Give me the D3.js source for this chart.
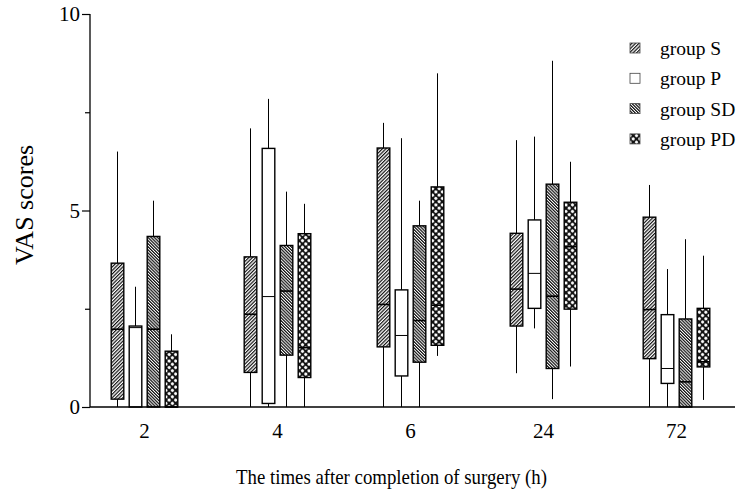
<!DOCTYPE html>
<html>
<head>
<meta charset="utf-8">
<script src="https://cdn.jsdelivr.net/npm/d3@7/dist/d3.min.js"></script>
<style>
    body { margin: 0; background: #fff; }
    svg { display: block; }
</style>
</head>
<body>
<div id="chart"></div>
<script>
// times after surgery (h)
const categories = ['2', '4', '6', '24', '72'];
const groups = ['group S', 'group P', 'group SD', 'group PD'];
const yTicks = [0, 5, 10];
const yMinorTicks = [2.5, 7.5];

// each entry: [min, q1, median, q3, max]
const groupS = [[0, 0.2, 1.98, 3.66, 6.5], [0, 0.88, 2.36, 3.82, 7.09], [0, 1.53, 2.61, 6.59, 7.23], [0.86, 2.06, 3.0, 4.42, 6.79], [0, 1.23, 2.48, 4.83, 5.65]];
const groupP = [[0, 0, 2.02, 2.06, 3.06], [0, 0.09, 2.81, 6.58, 7.84], [0, 0.79, 1.82, 2.98, 6.84], [2.0, 2.51, 3.4, 4.76, 6.88], [0, 0.6, 0.98, 2.35, 3.51]];
const groupSD = [[0, 0, 1.98, 4.34, 5.25], [0, 1.32, 2.95, 4.11, 5.48], [0, 1.14, 2.2, 4.61, 5.25], [0.2, 0.98, 2.82, 5.67, 8.81], [0, 0, 0.64, 2.24, 4.27]];
const groupPD = [[0, 0, 0, 1.42, 1.85], [0, 0.75, 1.51, 4.41, 5.17], [1.3, 1.57, 2.59, 5.6, 8.49], [1.03, 2.49, 4.08, 5.21, 6.24], [0.18, 1.02, 1.15, 2.51, 3.85]];

const seriesValues = [groupS, groupP, groupSD, groupPD];
const fills = ['url(#hatchS)', '#fff', 'url(#hatchSD)', 'url(#checkPD)'];

const width = 756, height = 498;
const font = '"Liberation Serif", "Times New Roman", serif';

const svg = d3.select('#chart').append('svg')
    .attr('width', width)
    .attr('height', height);

// fill patterns
const defs = svg.append('defs');
defs.append('pattern')
    .attr('id', 'hatchS')
    .attr('patternUnits', 'userSpaceOnUse')
    .attr('width', 2.5).attr('height', 2.5)
    .attr('patternTransform', 'rotate(45)')
    .call(p => {
        p.append('rect').attr('width', 2.5).attr('height', 2.5).attr('fill', '#fff');
        p.append('line').attr('x1', 0.6).attr('y1', 0).attr('x2', 0.6).attr('y2', 2.5)
            .attr('stroke', '#111').attr('stroke-width', 1.2);
    });
defs.append('pattern')
    .attr('id', 'hatchSD')
    .attr('patternUnits', 'userSpaceOnUse')
    .attr('width', 2.2).attr('height', 2.2)
    .attr('patternTransform', 'rotate(-45)')
    .call(p => {
        p.append('rect').attr('width', 2.2).attr('height', 2.2).attr('fill', '#fff');
        p.append('line').attr('x1', 0.6).attr('y1', 0).attr('x2', 0.6).attr('y2', 2.2)
            .attr('stroke', '#111').attr('stroke-width', 1.25);
    });
defs.append('pattern')
    .attr('id', 'checkPD')
    .attr('patternUnits', 'userSpaceOnUse')
    .attr('width', 4.6).attr('height', 4.6)
    .attr('patternTransform', 'rotate(45)')
    .call(p => {
        p.append('rect').attr('width', 4.6).attr('height', 4.6).attr('fill', '#111');
        p.append('circle').attr('cx', 2.3).attr('cy', 2.3).attr('r', 1.6).attr('fill', '#fff');
    });

const x = d3.scaleBand()
    .domain(categories)
    .range([78, 743]);

const xGroup = d3.scaleBand()
    .domain(groups)
    .range([0, 72])
    .paddingInner(0.3)
    .paddingOuter(0.15);

const y = d3.scaleLinear()
    .domain([0, 10])
    .range([407, 14]);

const axisX = 90, axisEnd = 735;

// boxes
groups.forEach((g, gi) => {
    const layer = svg.append('g').attr('class', 'series');
    const rows = seriesValues[gi].map((v, i) => ({ cat: categories[i], v: v }));
    const left = d => x(d.cat) + x.bandwidth() / 2 - 36 + xGroup(g);
    const mid = d => left(d) + xGroup.bandwidth() / 2;

    // whiskers
    layer.selectAll('.whisker-hi')
        .data(rows).enter().append('line')
        .attr('x1', mid).attr('x2', mid)
        .attr('y1', d => y(d.v[3])).attr('y2', d => y(d.v[4]))
        .attr('stroke', '#000').attr('stroke-width', 1);
    layer.selectAll('.whisker-lo')
        .data(rows).enter().append('line')
        .attr('x1', mid).attr('x2', mid)
        .attr('y1', d => y(d.v[1])).attr('y2', d => y(d.v[0]))
        .attr('stroke', '#000').attr('stroke-width', 1);

    layer.selectAll('.box')
        .data(rows).enter().append('rect')
        .attr('x', left)
        .attr('y', d => y(d.v[3]))
        .attr('width', xGroup.bandwidth())
        .attr('height', d => y(d.v[1]) - y(d.v[3]))
        .attr('fill', fills[gi])
        .attr('stroke', '#000')
        .attr('stroke-width', 1.4);

    layer.selectAll('.median')
        .data(rows).enter().append('line')
        .attr('x1', left)
        .attr('x2', d => left(d) + xGroup.bandwidth())
        .attr('y1', d => y(d.v[2])).attr('y2', d => y(d.v[2]))
        .attr('stroke', '#000')
        .attr('stroke-width', gi === 1 ? 1 : 1.6);
});

// y axis
const yAxis = svg.append('g')
    .attr('transform', `translate(${axisX},0)`)
    .call(d3.axisLeft(y).tickValues(yTicks).tickSize(8).tickPadding(2).tickFormat(d3.format('d')));
yAxis.select('.domain').remove();
svg.append('g')
    .attr('transform', `translate(${axisX},0)`)
    .call(d3.axisLeft(y).tickValues(yMinorTicks).tickSize(5).tickFormat(''))
    .select('.domain').remove();
svg.append('line')
    .attr('x1', axisX).attr('x2', axisX)
    .attr('y1', y(0)).attr('y2', y(10))
    .attr('stroke', '#000').attr('stroke-width', 1.3);

// x axis
const xAxis = svg.append('g')
    .attr('transform', `translate(0,${y(0)})`)
    .call(d3.axisBottom(x).tickSize(0).tickPadding(16));
xAxis.select('.domain').remove();
svg.append('line')
    .attr('x1', axisX).attr('x2', axisEnd)
    .attr('y1', y(0)).attr('y2', y(0))
    .attr('stroke', '#000').attr('stroke-width', 1.3);

svg.selectAll('.tick text')
    .attr('font-family', font)
    .attr('font-size', 21)
    .attr('fill', '#000');
svg.selectAll('.tick line')
    .attr('stroke', '#000')
    .attr('stroke-width', 1.2);

// axis titles
svg.append('text')
    .attr('x', 236)
    .attr('y', 484)
    .attr('font-family', font)
    .attr('font-size', 21)
    .attr('textLength', 311)
    .attr('lengthAdjust', 'spacingAndGlyphs')
    .text('The times after completion of surgery (h)');

svg.append('text')
    .attr('transform', 'translate(33,205) rotate(-90)')
    .attr('text-anchor', 'middle')
    .attr('font-family', font)
    .attr('font-size', 26)
    .text('VAS scores');

// legend
const legend = svg.append('g').attr('transform', 'translate(630,48)');
const item = legend.selectAll('.item')
    .data(groups).enter().append('g')
    .attr('transform', (d, i) => `translate(0,${i * 30.3})`);
item.append('rect')
    .attr('x', 0).attr('y', -5)
    .attr('width', 10).attr('height', 10)
    .attr('fill', (d, i) => fills[i])
    .attr('stroke', '#444')
    .attr('stroke-width', 0.8);
item.append('text')
    .attr('x', 30)
    .attr('y', 7)
    .attr('font-family', font)
    .attr('font-size', 19.5)
    .text(d => d);
</script>
</body>
</html>
